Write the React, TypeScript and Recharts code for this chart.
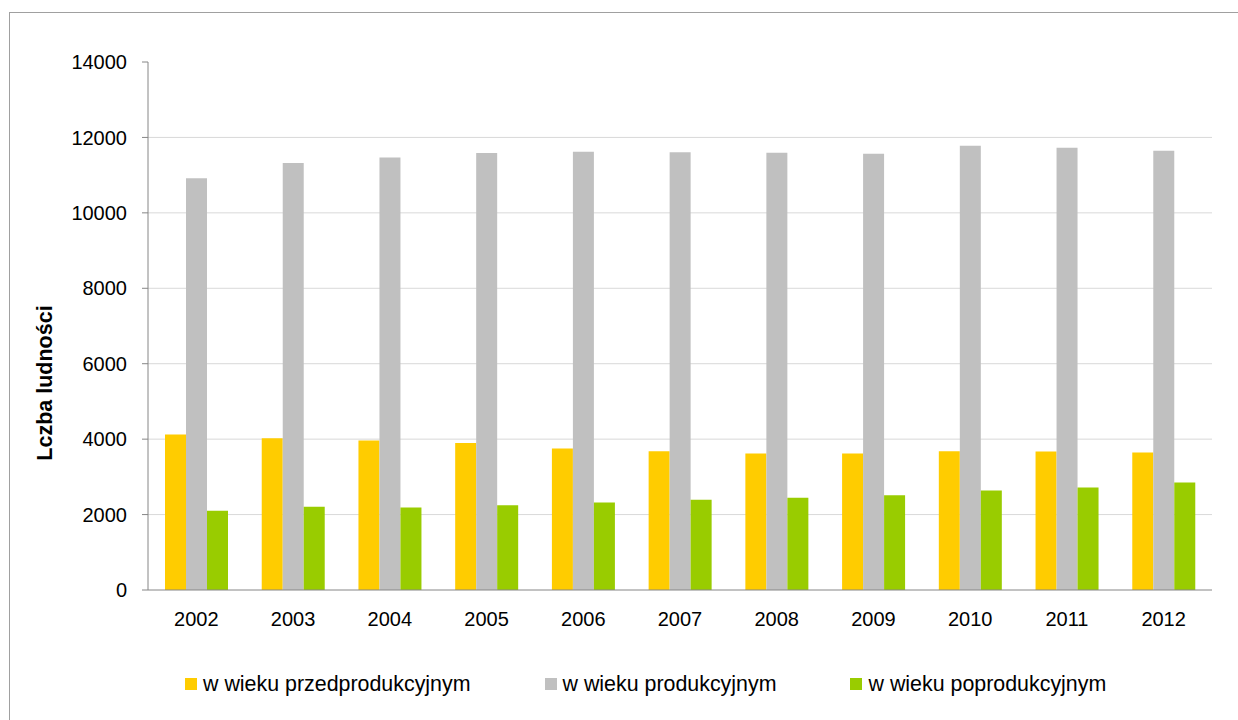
import React from "react";
import { BarChart, Bar, XAxis, YAxis, CartesianGrid, Legend } from "recharts";

const years = ["2002", "2003", "2004", "2005", "2006", "2007", "2008", "2009", "2010", "2011", "2012"];
const preProd = [4120, 4025, 3965, 3895, 3750, 3680, 3620, 3620, 3680, 3675, 3645];
const prod = [10920, 11320, 11470, 11585, 11620, 11610, 11595, 11570, 11780, 11725, 11645];
const postProd = [2100, 2205, 2185, 2250, 2320, 2390, 2445, 2515, 2635, 2715, 2850];
const yTicks = [0, 2000, 4000, 6000, 8000, 10000, 12000, 14000];
const gridValues = [2000, 4000, 6000, 8000, 10000, 12000];
const boundaryTicks = [0, 1, 2, 3, 4, 5, 6, 7, 8, 9, 10, 11];

const seriesNames = ["w wieku przedprodukcyjnym", "w wieku produkcyjnym", "w wieku poprodukcyjnym"];
const seriesColors = ["#FFCC00", "#C0C0C0", "#99CC00"];

const data = years.map((y, i) => ({ year: y, pre: preProd[i], prod: prod[i], post: postProd[i] }));

const FONT = "'Liberation Sans', Arial, sans-serif";
const AXIS = "#868686";

const LegendContent = (props: any) => {
  const payload = [...(props.payload || [])].sort(
    (a: any, b: any) => seriesNames.indexOf(a.value) - seriesNames.indexOf(b.value)
  );
  return (
    <div style={{ display: "flex", alignItems: "center", fontFamily: FONT, fontSize: 21.4, color: "#000", whiteSpace: "nowrap" }}>
      {payload.map((p: any, i: number) => (
        <div key={i} style={{ display: "flex", alignItems: "center", marginRight: 74 }}>
          <span style={{ display: "inline-block", width: 12, height: 12, background: p.color, marginRight: 6 }} />
          <span style={{ lineHeight: "24px" }}>{p.value}</span>
        </div>
      ))}
    </div>
  );
};

const YLabel = () => (
  <text x={42} y={370} transform="rotate(-90, 42, 370)" textAnchor="middle" fontFamily={FONT} fontSize={21.5} fontWeight="bold" fill="#000">
    Lczba ludności
  </text>
);

export default function App() {
  return (
    <div style={{ position: "fixed", left: 0, top: 0, width: 1238, height: 720, overflow: "hidden", background: "#fff" }}>
      <div style={{ position: "absolute", left: 9, top: 12, width: 1240, height: 720, borderLeft: "1px solid #a0a0a0", borderTop: "1px solid #a0a0a0" }}>
        <BarChart
          width={1228}
          height={707}
          data={data}
          margin={{ top: 49, right: 26, bottom: 90, left: 0 }}
          barCategoryGap={17}
          barGap={0}
        >
          <CartesianGrid horizontal vertical={false} stroke="#d9d9d9" horizontalValues={gridValues} />
          <XAxis
            xAxisId="grid"
            type="number"
            domain={[0, 11]}
            ticks={boundaryTicks}
            allowDataOverflow
            height={0}
            tick={false}
            tickSize={7}
            tickLine={{ stroke: AXIS }}
            axisLine={false}
          />
          <XAxis
            xAxisId="cat"
            dataKey="year"
            height={40}
            tickLine={false}
            tickSize={0}
            tickMargin={22}
            axisLine={{ stroke: AXIS }}
            tick={{ fill: "#000", fontSize: 20, fontFamily: FONT }}
            interval={0}
          />
          <YAxis
            width={138}
            domain={[0, 14000]}
            ticks={yTicks}
            interval={0}
            tickSize={6}
            tickMargin={15}
            axisLine={{ stroke: AXIS }}
            tickLine={{ stroke: AXIS }}
            tick={{ fill: "#000", fontSize: 20, fontFamily: FONT }}
            label={{ content: <YLabel /> } as any}
          />
          <Legend
            layout="horizontal"
            verticalAlign="middle"
            align="center"
            wrapperStyle={{ left: 175, top: 659, width: 1000 }}
            content={<LegendContent />}
          />
          <Bar xAxisId="cat" dataKey="pre" name={seriesNames[0]} fill={seriesColors[0]} isAnimationActive={false} />
          <Bar xAxisId="cat" dataKey="prod" name={seriesNames[1]} fill={seriesColors[1]} isAnimationActive={false} />
          <Bar xAxisId="cat" dataKey="post" name={seriesNames[2]} fill={seriesColors[2]} isAnimationActive={false} />
        </BarChart>
      </div>
    </div>
  );
}
